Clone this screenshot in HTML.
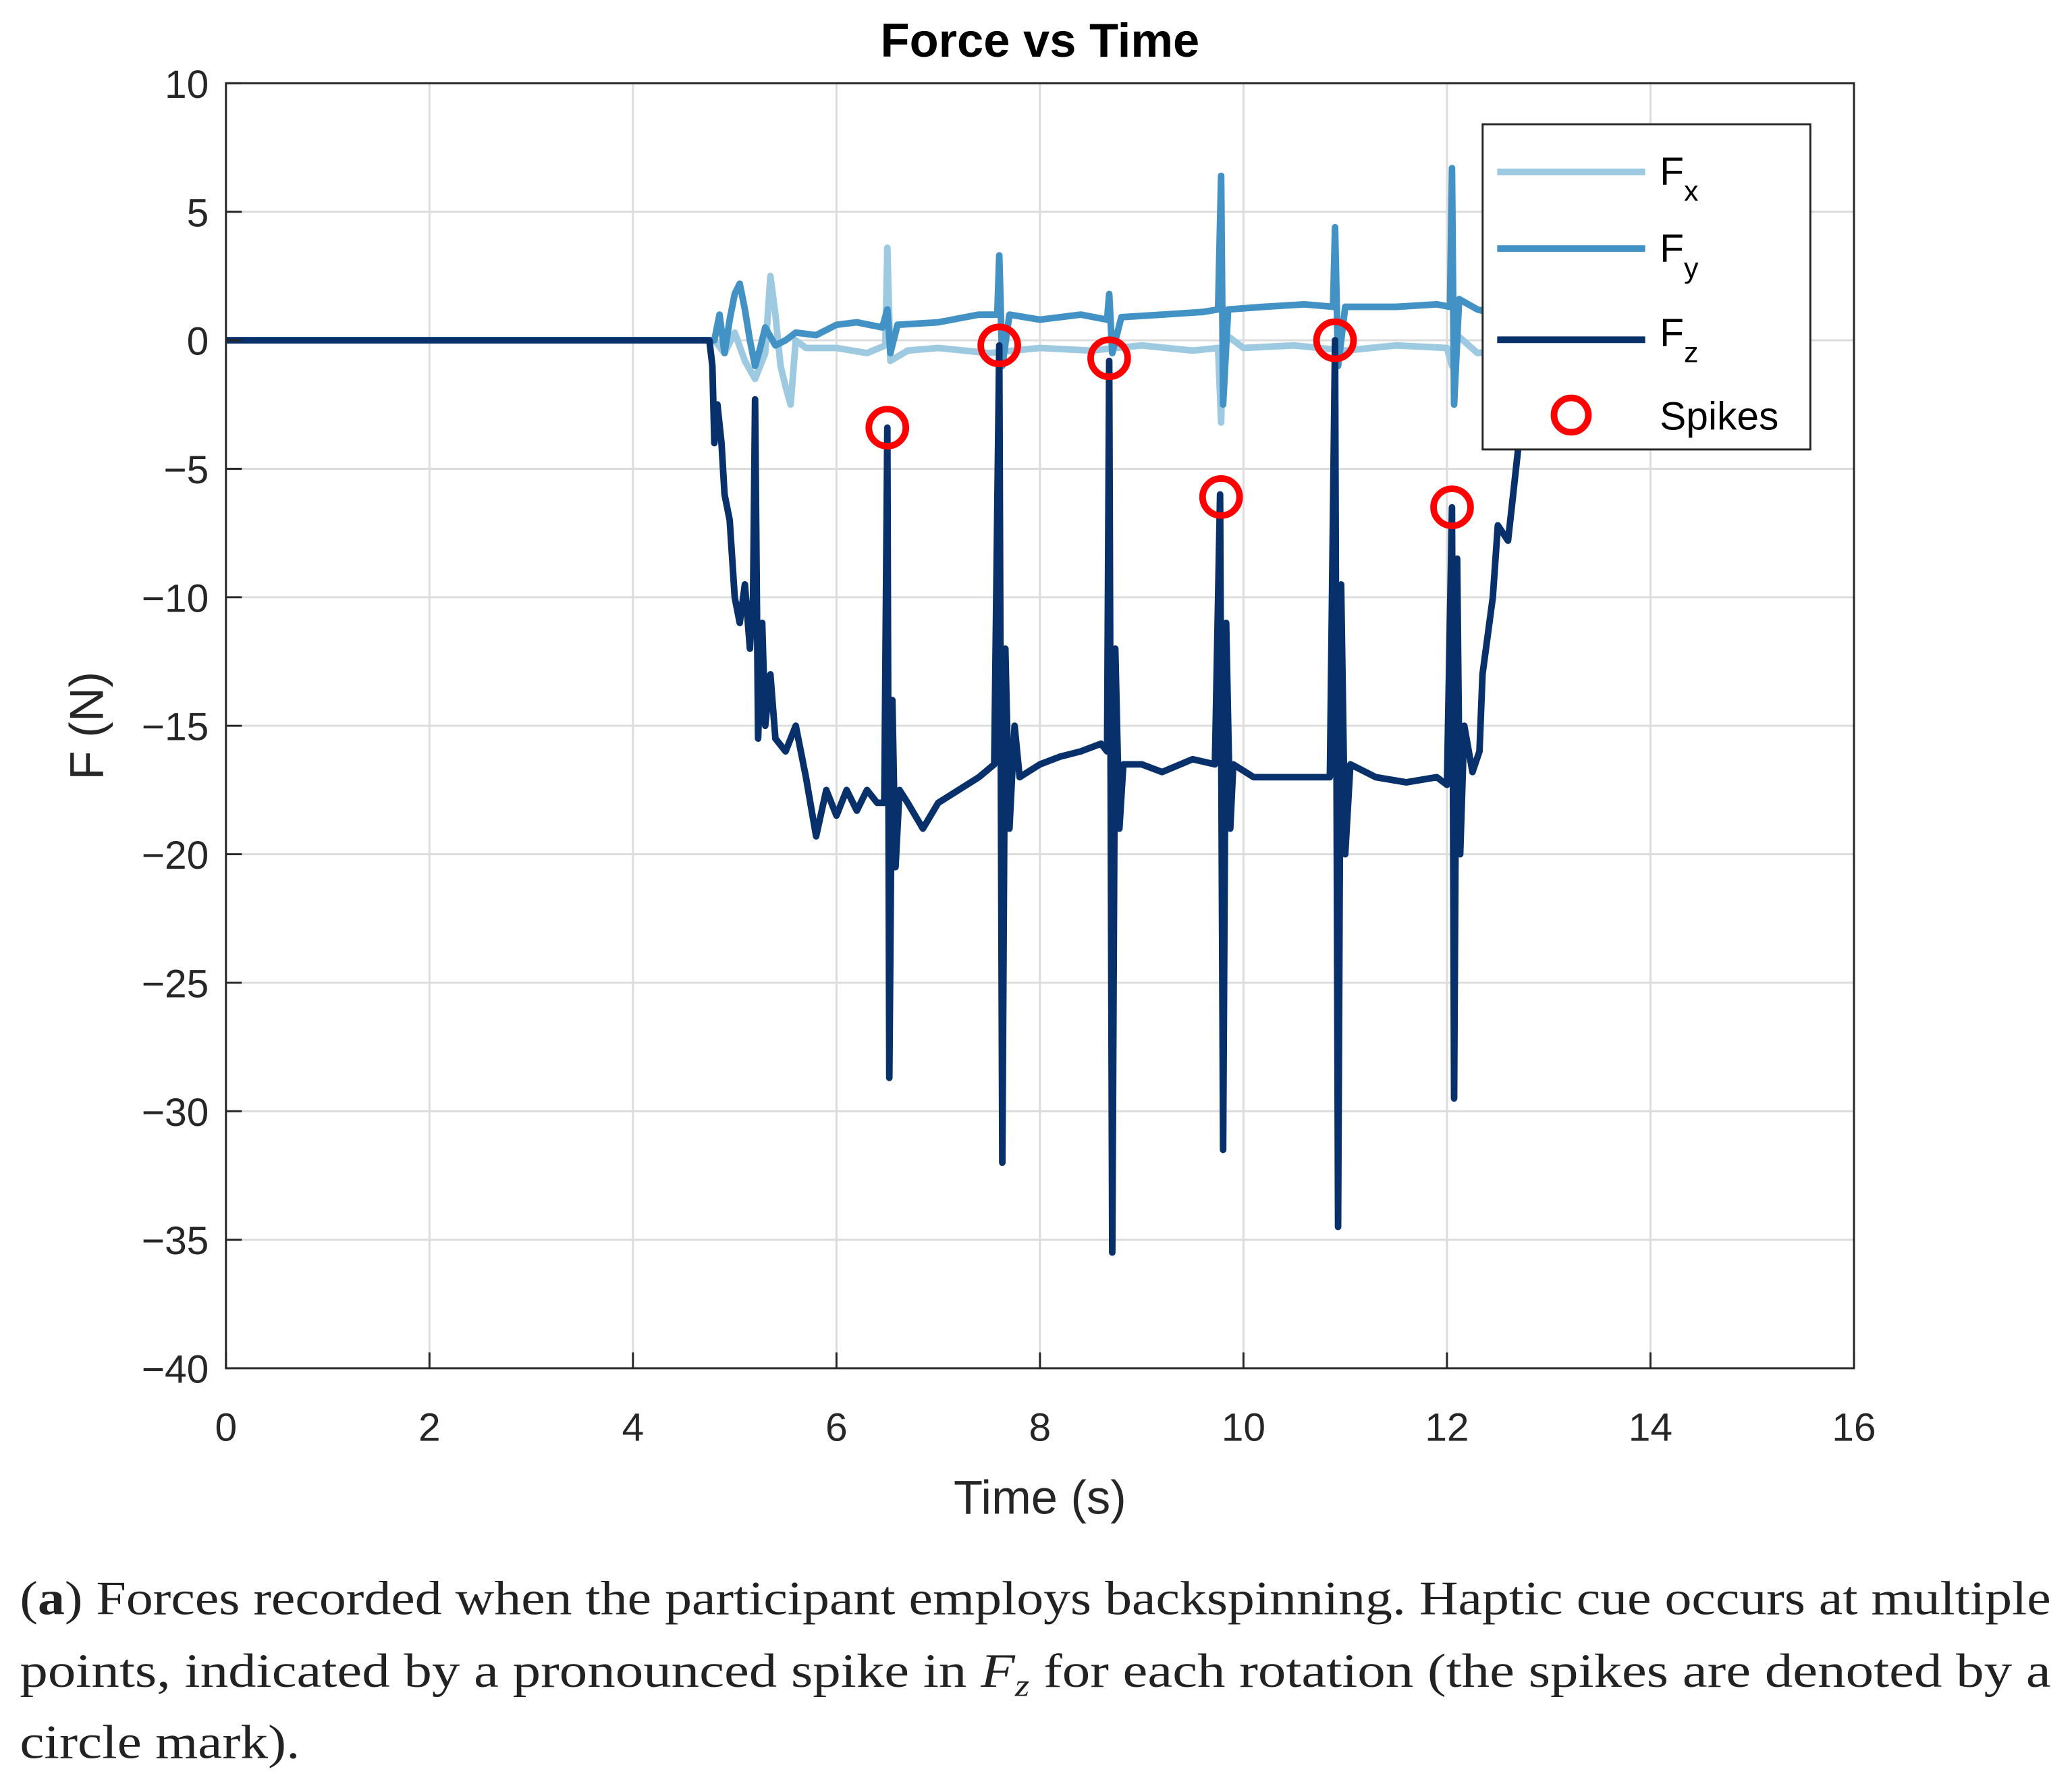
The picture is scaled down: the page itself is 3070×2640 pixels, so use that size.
<!DOCTYPE html>
<html><head><meta charset="utf-8"><style>
html,body{margin:0;padding:0;background:#fff;}
svg{display:block;}
</style></head><body>
<svg id="chart" width="3070" height="2640" viewBox="0 0 1568 1348" preserveAspectRatio="none" xmlns="http://www.w3.org/2000/svg" font-family="'Liberation Sans', sans-serif">
<rect width="1568" height="1348" fill="#fff"/>
<g id="grid"></g>
<g id="series"></g>
<rect x="171" y="63" width="1232" height="972" fill="none" stroke="#262626" stroke-width="1.5"/>
<g id="ticks" font-size="30" fill="#262626"></g>
<text x="787" y="43" text-anchor="middle" font-size="36" font-weight="bold" fill="#000">Force vs Time</text>
<text x="787" y="1145" text-anchor="middle" font-size="36" fill="#262626">Time (s)</text>
<text transform="translate(78,549) rotate(-90)" text-anchor="middle" font-size="36" fill="#262626">F (N)</text>
<g>
<rect x="1122" y="94" width="248" height="246" fill="#fff" stroke="#262626" stroke-width="1.5"/>
<line x1="1133" y1="130" x2="1245" y2="130" stroke="#9ecae1" stroke-width="5"/>
<text x="1256" y="140" font-size="30" fill="#000">F<tspan font-size="22" dy="12">x</tspan></text>
<line x1="1133" y1="188" x2="1245" y2="188" stroke="#4292c6" stroke-width="5"/>
<text x="1256" y="198" font-size="30" fill="#000">F<tspan font-size="22" dy="12">y</tspan></text>
<line x1="1133" y1="257" x2="1245" y2="257" stroke="#08306b" stroke-width="5"/>
<text x="1256" y="262" font-size="30" fill="#000">F<tspan font-size="22" dy="12">z</tspan></text>
<circle cx="1189" cy="314" r="13" fill="none" stroke="#ff0000" stroke-width="5"/>
<text x="1256" y="325" font-size="30" fill="#000">Spikes</text>
</g>
<g font-family="'Liberation Serif', serif" font-size="36" fill="#222">
<text x="15" y="1221" textLength="1537" lengthAdjust="spacingAndGlyphs"><tspan>(</tspan><tspan font-weight="bold">a</tspan><tspan>) Forces recorded when the participant employs backspinning. Haptic cue occurs at multiple</tspan></text>
<text x="15" y="1276" textLength="1537" lengthAdjust="spacingAndGlyphs">points, indicated by a pronounced spike in <tspan font-style="italic">F</tspan><tspan font-style="italic" font-size="24" dy="7">z</tspan><tspan dy="-7"> for each rotation (the spikes are denoted by a</tspan></text>
<text x="15" y="1330" textLength="212" lengthAdjust="spacingAndGlyphs">circle mark).</text>
</g>
</svg>
<script>
const xTicks=[0,2,4,6,8,10,12,14,16];
const yTicks=[10,5,0,-5,-10,-15,-20,-25,-30,-35,-40];
const fzT=[0,4.75,4.78,4.8,4.83,4.87,4.9,4.95,5.0,5.05,5.1,5.15,5.18,5.2,5.23,5.27,5.3,5.35,5.4,5.5,5.6,5.7,5.8,5.9,6.0,6.1,6.2,6.3,6.4,6.47,6.5,6.52,6.55,6.58,6.62,6.7,6.85,7.0,7.2,7.4,7.55,7.6,7.63,7.66,7.7,7.75,7.8,8.0,8.2,8.4,8.6,8.66,8.68,8.71,8.74,8.78,8.82,9.0,9.2,9.5,9.72,9.77,9.8,9.83,9.87,9.9,10.1,10.5,10.85,10.9,10.93,10.96,11.0,11.05,11.3,11.6,11.9,12.0,12.05,12.07,12.1,12.13,12.17,12.25,12.32,12.35,12.45,12.5,12.6,12.65,12.72,12.78,13.0];
const fzV=[0,0,-1,-4,-2.5,-4,-6,-7,-10,-11,-9.5,-12,-10,-2.3,-15.5,-11,-15,-13,-15.5,-16,-15,-17,-19.3,-17.5,-18.5,-17.5,-18.3,-17.5,-18,-18,-3.4,-28.7,-14,-20.5,-17.5,-18,-19,-18,-17.5,-17,-16.5,-0.2,-32,-12,-19,-15,-17,-16.5,-16.2,-16,-15.7,-16,-0.8,-35.5,-12,-19,-16.5,-16.5,-16.8,-16.3,-16.5,-6,-31.5,-11,-19,-16.5,-17,-17,-17,0,-34.5,-9.5,-20,-16.5,-17,-17.2,-17,-17.3,-6.5,-29.5,-8.5,-20,-15,-16.8,-16,-13,-10,-7.2,-7.8,-6,-3.5,-1,0];
const fyT=[0,4.8,4.85,4.9,4.95,5.0,5.05,5.1,5.15,5.2,5.25,5.3,5.4,5.5,5.6,5.8,6.0,6.2,6.45,6.5,6.53,6.6,7.0,7.4,7.58,7.6,7.63,7.7,8.0,8.4,8.66,8.68,8.71,8.8,9.2,9.6,9.75,9.78,9.8,9.85,10.2,10.6,10.88,10.9,10.93,11.0,11.5,11.9,12.03,12.05,12.07,12.12,12.3,12.5];
const fyV=[0,0,1,-0.5,0.8,1.8,2.2,1.2,0,-1,-0.3,0.5,-0.2,0,0.3,0.2,0.6,0.7,0.5,1.2,-0.5,0.6,0.7,1,1,3.3,-1,1,0.8,1,0.8,1.8,-0.5,0.9,1,1.1,1.2,6.4,-2.5,1.2,1.3,1.4,1.3,4.4,-1,1.3,1.3,1.4,1.3,6.7,-2.5,1.6,1.2,1];
const fxT=[0,4.8,4.9,5.0,5.1,5.2,5.3,5.35,5.4,5.45,5.5,5.55,5.6,5.7,6.0,6.3,6.48,6.5,6.53,6.7,7.0,7.5,8.0,8.5,9.0,9.5,9.75,9.78,9.8,10.0,10.5,11.0,11.5,12.0,12.05,12.1,12.3,12.5];
const fxV=[0,0,-0.5,0.3,-0.8,-1.5,-0.5,2.5,1,-1,-1.8,-2.5,0,-0.3,-0.3,-0.5,-0.2,3.6,-0.8,-0.4,-0.3,-0.5,-0.3,-0.4,-0.2,-0.4,-0.3,-3.2,0.3,-0.3,-0.2,-0.4,-0.2,-0.3,-1,0.2,-0.5,-0.4];
const spikeT=[6.5,7.6,8.68,9.78,10.9,12.05];
const spikeV=[-3.4,-0.2,-0.7,-6.1,0,-6.5];
const NS='http://www.w3.org/2000/svg';
const X=t=>171+(t-0)/16*1232;
const Y=v=>63+(10-v)/50*972;
const grid=document.getElementById('grid'),ticks=document.getElementById('ticks'),ser=document.getElementById('series');
function mk(tag,attrs,parent){const e=document.createElementNS(NS,tag);for(const k in attrs)e.setAttribute(k,attrs[k]);parent.appendChild(e);return e;}
xTicks.forEach(t=>{
 const g=mk('line',{x1:X(t),x2:X(t),y1:63,y2:1035,stroke:'#dcdcdc','stroke-width':1.5},grid);
 
 
 const tk=mk('line',{x1:X(t),x2:X(t),y1:1035,y2:1023,stroke:'#262626','stroke-width':1.5},ticks);
 
 
 const tx=mk('text',{x:X(t),y:1090,'text-anchor':'middle'},ticks);tx.textContent=t;
 
 
});
yTicks.forEach(v=>{
 const g=mk('line',{x1:171,x2:1403,y1:Y(v),y2:Y(v),stroke:'#dcdcdc','stroke-width':1.5},grid);
 
 
 const tk=mk('line',{x1:171,x2:183,y1:Y(v),y2:Y(v),stroke:'#262626','stroke-width':1.5},ticks);
 
 
 const tx=mk('text',{x:158,y:Y(v)+11,'text-anchor':'end'},ticks);tx.textContent=(v<0?'\u2212'+(-v):v);
 
 
});
function line(ts,vs,color,name){
 const d=ts.map((t,i)=>(i?'L':'M')+X(t).toFixed(1)+','+Y(vs[i]).toFixed(1)).join('');
 const p=mk('path',{d:d,fill:'none',stroke:color,'stroke-width':5,'stroke-linejoin':'round'},ser);
 
 
}
line(fxT,fxV,'#9ecae1','fx-line');
line(fyT,fyV,'#4292c6','fy-line');
line(fzT,fzV,'#08306b','fz-line');
spikeT.forEach((t,i)=>{
 const c=mk('circle',{cx:X(t),cy:Y(spikeV[i]),r:14,fill:'none',stroke:'#ff0000','stroke-width':5},ser);
 
 
});
</script>
</body></html>
